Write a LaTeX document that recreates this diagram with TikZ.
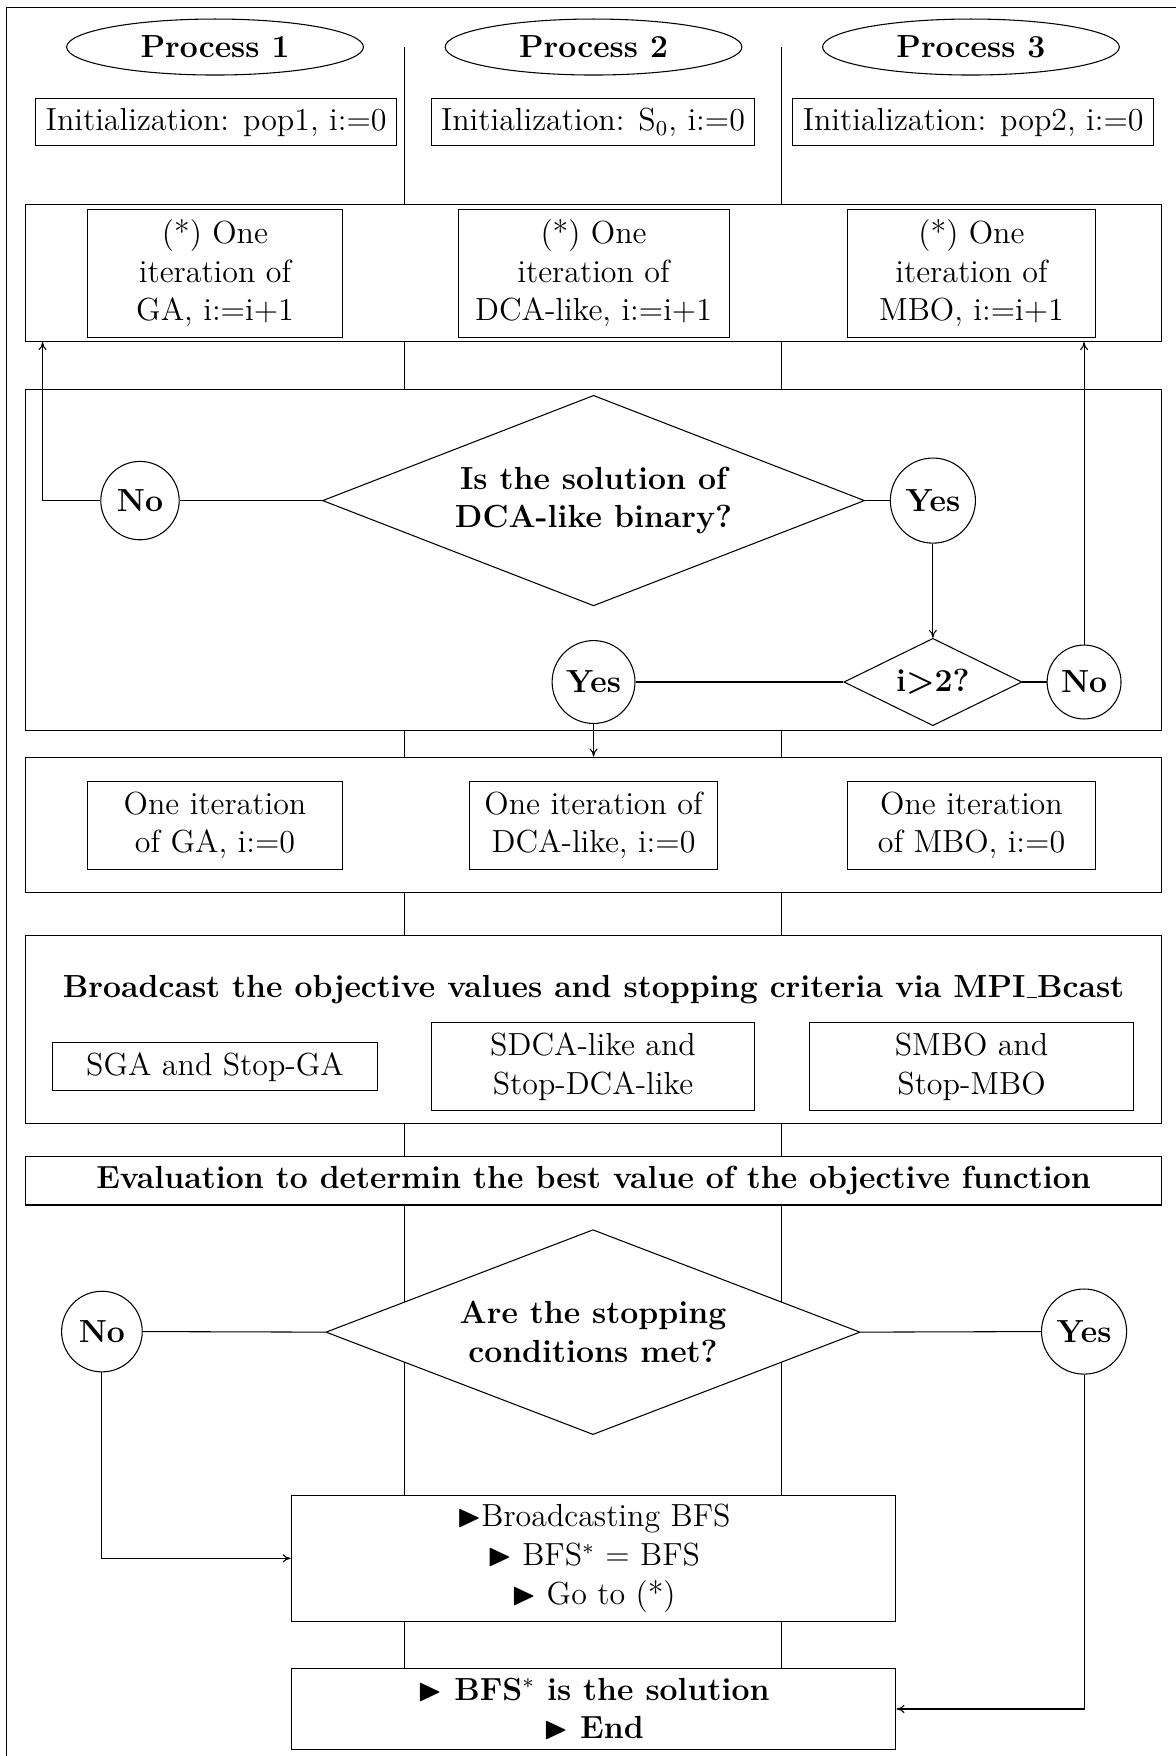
\documentclass[12pt,tikz,border=0pt]{standalone}
\usepackage{amssymb}
\usetikzlibrary{shapes.geometric,arrows.meta}
\newdimen\pu \pu=0.4205pt
\begin{document}
\begin{tikzpicture}[x=0.4205pt,y=-0.4205pt,
  line width=0.4pt,
  sz/.style 2 args={minimum width=#1*\pu,minimum height=#2*\pu},
  bx/.style={draw,fill=white,inner sep=0pt,align=center},
  proc/.style={ellipse,draw,fill=white,inner sep=0pt,font=\bfseries},
  circ/.style={circle,draw,fill=white,inner sep=0pt,font=\bfseries,minimum size=#1*\pu},
  dia/.style={diamond,draw,fill=white,inner sep=0pt,align=center,font=\bfseries},
  arr/.style={-{To[length=3pt,width=3pt]}}]
\useasboundingbox (0,0) rectangle (1050,1568);
% frame
\coordinate (f0) at (6,1568);
\coordinate (f1) at (6,7);
\coordinate (f2) at (1050,7);
\draw (f0) -- (f1) -- (f2);
% lane dividers
\coordinate (va) at (361,42);
\coordinate (vb) at (361,1490);
\coordinate (vc) at (698,42);
\coordinate (vd) at (698,1490);
\draw (va) -- (vb);
\draw (vc) -- (vd);
% headers
\node[proc,sz={265}{50}] (p1) at (192,42) {Process 1};
\node[proc,sz={265}{50}] (p2) at (530,42) {Process 2};
\node[proc,sz={265}{50}] (p3) at (867,42) {Process 3};
\node[bx,sz={322}{42}] (i1) at (193,109) {Initialization: pop1, i:=0};
\node[bx,sz={289}{42}] (i2) at (529.5,109) {Initialization: S$_0$, i:=0};
\node[bx,sz={322}{42}] (i3) at (869,109) {Initialization: pop2, i:=0};
% row 1
\node[bx,sz={1014}{122}] (r1) at (530,244) {};
\node[bx,sz={228}{114}] (g1) at (192,244) {(*) One\\iteration of\\GA, i:=i+1};
\node[bx,sz={242}{114}] (d1b) at (530,244) {(*) One\\iteration of\\DCA-like, i:=i+1};
\node[bx,sz={221}{114}] (m1) at (867.5,244) {(*) One\\iteration of\\MBO, i:=i+1};
% row 2
\node[bx,sz={1014}{304}] (r2) at (530,500) {};
\node[dia,aspect=2.57,sz={484}{188}] (q1) at (530,447) {Is the solution of\\DCA-like binary?};
\node[circ=70] (no1) at (125,447) {No};
\node[circ=76] (yes1) at (833,447) {Yes};
\node[dia,aspect=2.04,sz={159}{78}] (q2) at (833,609) {i\textgreater2?};
\node[circ=66] (no2) at (968,609) {No};
\node[circ=74] (yes2) at (530,609) {Yes};
% row 3
\node[bx,sz={1014}{121}] (r3) at (530,736.5) {};
\node[bx,sz={228}{78}] (g3) at (192,737) {One iteration\\of GA, i:=0};
\node[bx,sz={222}{78}] (d3b) at (530,737) {One iteration of\\DCA-like, i:=0};
\node[bx,sz={221}{78}] (m3) at (867.5,737) {One iteration\\of MBO, i:=0};
% row 4
\node[bx,sz={1014}{168}] (r4) at (530,919) {};
\node[font=\bfseries] (bt) at (530,884) {Broadcast the objective values and stopping criteria via MPI\kern.06em\vbox{\hrule width .3em height .5pt}Bcast};
\node[bx,sz={290}{43}] (s1) at (192,952.5) {SGA and Stop-GA};
\node[bx,sz={289}{79}] (s2) at (529.5,952.5) {SDCA-like and\\Stop-DCA-like};
\node[bx,sz={289}{79}] (s3) at (867.5,952.5) {SMBO and\\Stop-MBO};
% evaluation
\node[bx,sz={1014}{43},font=\bfseries] (ev) at (530,1054.5) {Evaluation to determin the best value of the objective function};
% stopping decision
\node[dia,aspect=2.6,sz={477}{183}] (q3) at (529.5,1189.5) {Are the stopping\\conditions met?};
\node[circ=72] (no3) at (91,1189) {No};
\node[circ=76] (yes3) at (968,1189) {Yes};
\node[bx,sz={540}{113}] (bfs) at (530,1391.5) {$\blacktriangleright$Broadcasting BFS\\$\blacktriangleright$ BFS$^*$ $=$ BFS\\$\blacktriangleright$ Go to (*)};
\node[bx,sz={540}{72},font=\bfseries] (en) at (530,1526) {$\blacktriangleright$ BFS$^*$ is the solution\\$\blacktriangleright$ End};
% connectors
\coordinate (c1) at (38,447);
\draw[arr] (no1.west) -- (c1) -- (c1 |- r1.south);
\draw (no1.east) -- (q1.west);
\draw (q1.east) -- (yes1.west);
\draw[arr] (yes1.south) -- (q2.north);
\draw (q2.east) -- (no2.west);
\draw[arr] (no2.north) -- (no2.north |- r1.south);
\draw (q2.west) -- (yes2.east);
\draw[arr] (yes2.south) -- (yes2.south |- r3.north);
\draw (no3.east) -- (q3.west);
\draw (q3.east) -- (yes3.west);
\draw[arr] (no3.south) |- (bfs.west);
\draw[arr] (yes3.south) |- (en.east);
\end{tikzpicture}
\end{document}
